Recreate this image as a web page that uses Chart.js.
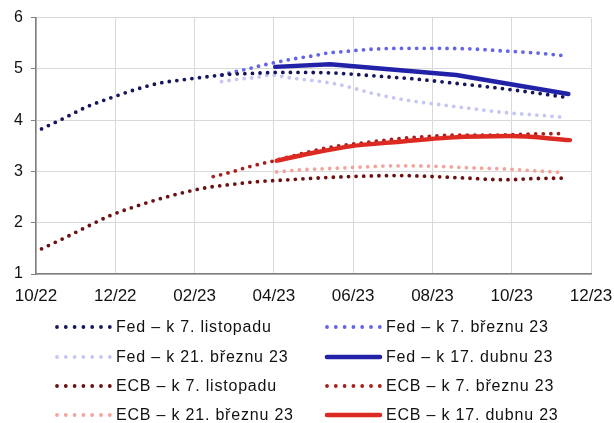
<!DOCTYPE html>
<html>
<head>
<meta charset="utf-8">
<script src="https://cdn.jsdelivr.net/npm/chart.js@4"></script>
<style>
  html, body { margin: 0; padding: 0; background: #fff; }
  canvas { display: block; }
</style>
</head>
<body>
<canvas id="chart" width="614" height="423"></canvas>
<script>
// x = months since start of 10/22, y = expected policy rate (%)
const tickLabels = ['10/22', '12/22', '02/23', '04/23', '06/23', '08/23', '10/23', '12/23'];

const seriesNames = [
  'Fed – k 7. listopadu', 'Fed – k 7. březnu 23',
  'Fed – k 21. březnu 23', 'Fed – k 17. dubnu 23',
  'ECB – k 7. listopadu', 'ECB – k 7. březnu 23',
  'ECB – k 21. březnu 23', 'ECB – k 17. dubnu 23'
];

const fedNov = [[0.14, 3.83], [0.71, 4.04], [1.28, 4.26], [1.87, 4.43], [2.48, 4.59], [3.10, 4.72],
  [3.73, 4.79], [4.35, 4.85], [4.98, 4.90], [5.40, 4.91], [6.03, 4.93], [6.87, 4.93], [7.50, 4.92],
  [7.92, 4.90], [8.76, 4.85], [9.60, 4.80], [10.44, 4.73], [11.28, 4.66], [12.13, 4.58],
  [12.97, 4.49], [13.41, 4.44]];
const fedMar7 = [[4.68, 4.88], [4.89, 4.92], [5.29, 4.99], [5.71, 5.07], [6.13, 5.14], [6.53, 5.20],
  [6.96, 5.25], [7.37, 5.31], [7.80, 5.34], [8.22, 5.37], [8.64, 5.39], [9.27, 5.40], [10.11, 5.40],
  [10.95, 5.39], [11.79, 5.35], [12.63, 5.31], [13.29, 5.26]];
const fedMar21 = [[4.68, 4.75], [5.10, 4.80], [5.52, 4.83], [5.95, 4.88], [6.36, 4.83], [6.79, 4.79],
  [7.21, 4.75], [7.61, 4.70], [8.03, 4.62], [8.45, 4.53], [9.27, 4.40], [10.11, 4.31], [10.95, 4.23],
  [11.79, 4.15], [12.63, 4.10], [13.26, 4.06]];
const fedApr = [[6.03, 5.04], [7.42, 5.09], [10.60, 4.88], [13.43, 4.51]];

const ecbNov = [[0.14, 1.49], [0.71, 1.70], [1.28, 1.92], [1.87, 2.14], [2.48, 2.31], [3.10, 2.46],
  [3.73, 2.59], [4.35, 2.69], [4.98, 2.75], [5.57, 2.80], [6.20, 2.83], [6.83, 2.86], [7.92, 2.90],
  [9.18, 2.92], [10.02, 2.90], [10.87, 2.87], [11.71, 2.84], [11.92, 2.84], [12.55, 2.86], [13.39, 2.87]];
const ecbMar7 = [[4.47, 2.90], [4.89, 2.98], [5.32, 3.08], [5.73, 3.16], [5.92, 3.19], [6.41, 3.29],
  [7.33, 3.46], [8.17, 3.55], [9.18, 3.64], [10.02, 3.69], [10.87, 3.71], [11.71, 3.71],
  [12.55, 3.73], [13.26, 3.74]];
const ecbMar21 = [[6.07, 2.99], [6.66, 3.03], [7.50, 3.06], [8.34, 3.09], [9.10, 3.11], [10.11, 3.10],
  [10.95, 3.07], [11.79, 3.05], [12.63, 3.01], [13.29, 2.98]];
const ecbApr = [[6.07, 3.21], [6.91, 3.35], [7.92, 3.49], [9.18, 3.58], [10.44, 3.66], [11.96, 3.69],
  [13.47, 3.61]];

const seriesData = [fedNov, fedMar7, fedMar21, fedApr, ecbNov, ecbMar7, ecbMar21, ecbApr];
const seriesColors = ['#17165a', '#6464e6', '#c6c6f4', '#2222a8', '#6a1212', '#a51f1c', '#f3a49d', '#dc2a22'];
const solid = [false, false, false, true, false, false, false, true];

const FONT = "'Liberation Sans', Arial, sans-serif";

function makeDataset(i) {
  const isSolid = solid[i];
  return {
    label: seriesNames[i],
    data: seriesData[i].map(p => ({ x: p[0], y: p[1] })),
    borderColor: seriesColors[i],
    backgroundColor: seriesColors[i],
    borderWidth: isSolid ? 4.4 : 3.8,
    borderDash: isSolid ? [] : [0, 7.6],
    borderCapStyle: 'round',
    borderJoinStyle: 'round',
    pointRadius: 0,
    fill: false,
    tension: i === 3 ? 0 : 0.4,
    cubicInterpolationMode: i === 3 ? 'default' : 'monotone',
    order: isSolid ? 0 : 1
  };
}

// two-column legend under the plot
const gridLegend = {
  id: 'gridLegend',
  afterDraw(chart) {
    const ctx = chart.ctx;
    const cols = [57, 327];
    const rowY = [327, 357, 386, 415];
    const sampleLen = 53;
    ctx.save();
    chart.data.datasets.forEach((ds, i) => {
      const x0 = cols[i % 2];
      const y = rowY[Math.floor(i / 2)];
      ctx.beginPath();
      ctx.strokeStyle = ds.borderColor;
      ctx.lineCap = 'round';
      if (solid[i]) {
        ctx.setLineDash([]);
        ctx.lineWidth = 4.6;
      } else {
        ctx.setLineDash([0, 8.8]);
        ctx.lineWidth = 3.8;
      }
      ctx.moveTo(x0, y);
      ctx.lineTo(x0 + sampleLen, y);
      ctx.stroke();
      ctx.setLineDash([]);
      ctx.fillStyle = '#111';
      ctx.font = '16px ' + FONT;
      ctx.letterSpacing = '0.8px';
      ctx.textBaseline = 'middle';
      ctx.textAlign = 'left';
      ctx.fillText(ds.label, x0 + sampleLen + 6, y + 1);
    });
    ctx.restore();
  }
};

new Chart(document.getElementById('chart'), {
  type: 'line',
  data: {
    datasets: seriesNames.map((n, i) => makeDataset(i))
  },
  options: {
    responsive: false,
    animation: false,
    devicePixelRatio: 1,
    layout: { padding: { top: 17, right: 23, bottom: 121, left: 0 } },
    plugins: {
      legend: { display: false },
      tooltip: { enabled: false }
    },
    scales: {
      x: {
        type: 'linear',
        min: 0,
        max: 14,
        afterFit(scale) {
          scale.height = 28;
          scale.paddingLeft = 0;
          scale.paddingRight = 0;
        },
        ticks: {
          stepSize: 2,
          autoSkip: false,
          maxRotation: 0,
          padding: 12,
          color: '#111',
          font: { family: FONT, size: 17 },
          callback: v => tickLabels[v / 2]
        },
        grid: { color: '#d9d9d9', lineWidth: 1, drawTicks: false },
        border: { color: '#7f7f7f', width: 1.5 }
      },
      y: {
        min: 1,
        max: 6,
        afterFit(scale) { scale.width = 36; },
        ticks: {
          stepSize: 1,
          padding: 8,
          color: '#111',
          font: { family: FONT, size: 16 }
        },
        grid: { color: '#d9d9d9', lineWidth: 1, tickColor: '#7f7f7f', tickLength: 5 },
        border: { color: '#7f7f7f', width: 1.5 }
      }
    }
  },
  plugins: [gridLegend]
});
</script>
</body>
</html>
